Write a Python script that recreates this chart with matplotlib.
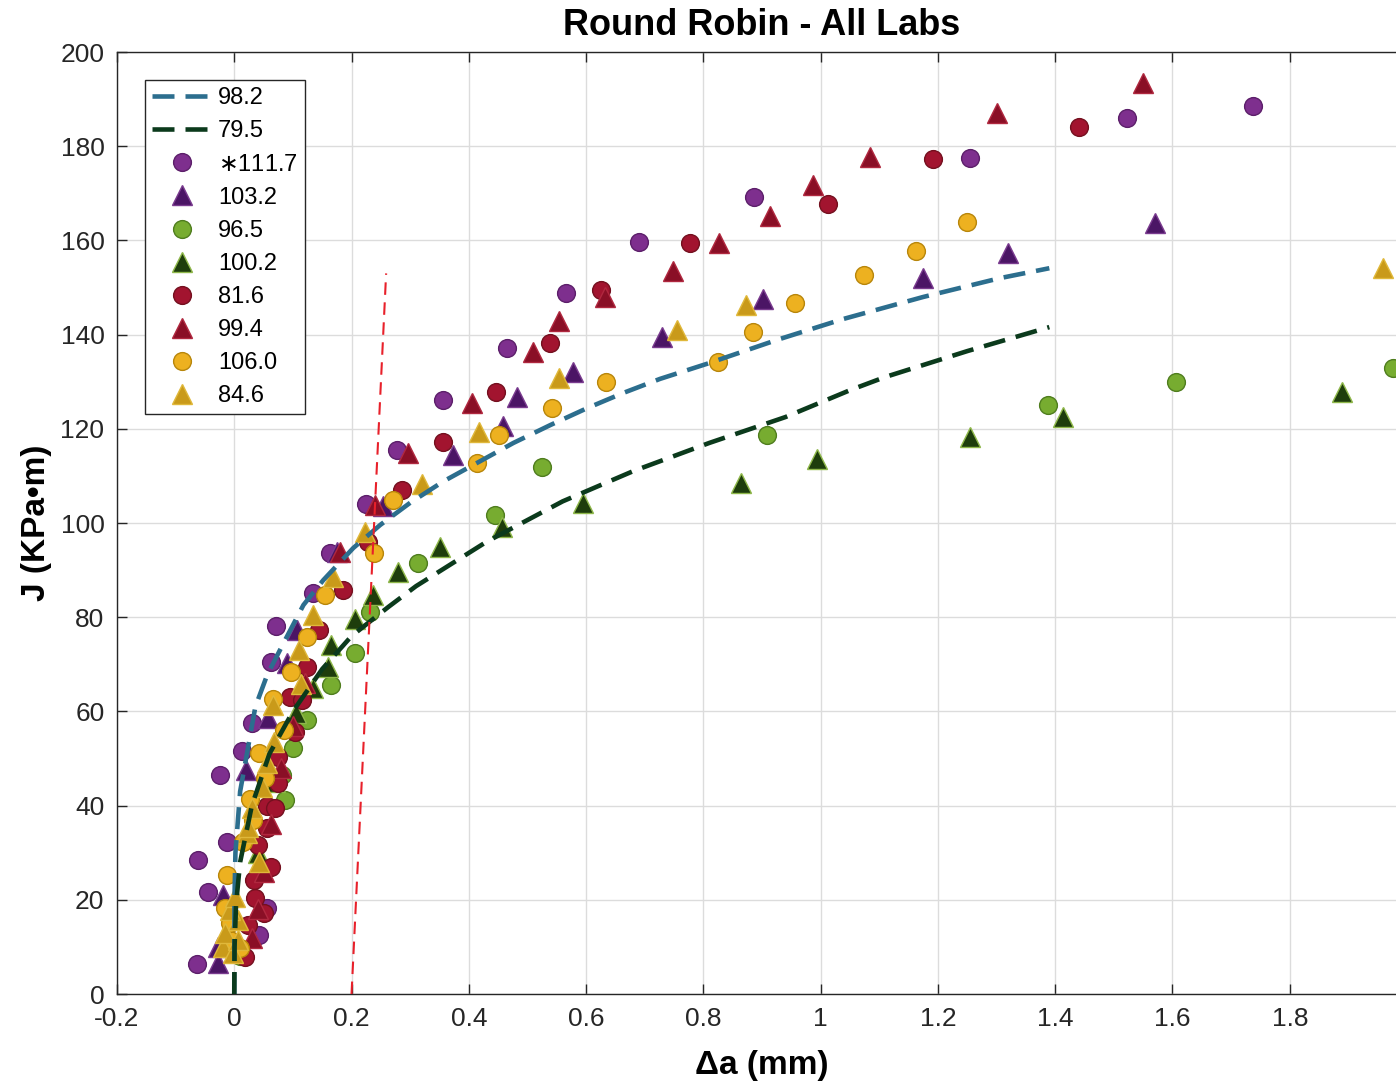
import numpy as np
import matplotlib
matplotlib.use('Agg')
import matplotlib.pyplot as plt

plt.rcParams['font.family'] = ['Liberation Sans', 'DejaVu Sans']

# fit curves
fit_labels = ['98.2', '79.5']
fit_colors = ['#2C6E8E', '#0B3A1C']
fit1_x = [0.0, 0.0003, 0.002, 0.01, 0.036, 0.056, 0.084, 0.118, 0.152, 0.203, 0.249, 0.30,
          0.356, 0.476, 0.539, 0.602, 0.663, 0.726, 0.806, 0.926, 1.038, 1.175, 1.306, 1.39]
fit1_y = [0.0, 20, 30, 43, 61, 67.7, 74.5, 82.6, 87.9, 94.7, 99.6, 104.3,
          108.8, 117, 120.8, 124.4, 127.6, 130.6, 133.8, 138.9, 143.3, 148, 152, 154.1]
fit2_x = [0.0, 0.0005, 0.003, 0.01, 0.03, 0.06, 0.1, 0.15, 0.2, 0.263, 0.31, 0.43, 0.56,
          0.68, 0.81, 0.94, 1.05, 1.11, 1.25, 1.39]
fit2_y = [0.0, 10, 19, 28, 40, 51, 60, 69, 76, 82.2, 86.6, 96.0, 104.6,
          111.0, 117, 122.5, 128.2, 131, 136.5, 141.6]

# 0.2 mm offset line
off_x = [0.2, 0.259]
off_y = [0.0, 153]

labels = ['$\\ast$111.7', '103.2', '96.5', '100.2', '81.6', '99.4', '106.0', '84.6']
markers = ['o', '^', 'o', '^', 'o', '^', 'o', '^']
faces = ['#7E2F8E', '#4B1565', '#77AC30', '#1E3D0C', '#A2142F', '#8A0F26', '#EDB120', '#C99A1A']
edges = ['#5C1F6A', '#7A3B8F', '#4F7D1E', '#8FB84A', '#74101F', '#B0283F', '#B8860B', '#E0B83A']

s1_x = [-0.063, 0.043, 0.055, -0.044, -0.061, -0.012, -0.024, 0.013, 0.031, 0.063, 0.071, 0.134,
        0.163, 0.225, 0.277, 0.356, 0.465, 0.566, 0.691, 0.887, 1.254, 1.522, 1.737]
s1_y = [6.4, 12.5, 18.3, 21.7, 28.5, 32.3, 46.5, 51.7, 57.5, 70.5, 78.2, 85.2,
        93.7, 104.1, 115.5, 126.2, 137.2, 148.8, 159.7, 169.2, 177.5, 186, 188.5]

s2_x = [-0.027, -0.027, -0.02, 0.02, 0.058, 0.09, 0.107, 0.175, 0.254, 0.373, 0.459, 0.483,
        0.578, 0.730, 0.902, 1.175, 1.320, 1.571]
s2_y = [6.6, 10, 21, 47.6, 58.6, 70.3, 77.3, 93.8, 103.6, 114.4, 120.6, 126.8,
        132, 139.5, 147.5, 152.1, 157.3, 163.7]

s3_x = [0.01, 0.087, 0.082, 0.100, 0.124, 0.165, 0.206, 0.232, 0.314, 0.445, 0.525, 0.909,
        1.388, 1.606, 1.976]
s3_y = [8, 41.2, 46.5, 52.2, 58.2, 65.6, 72.4, 81.1, 91.5, 101.7, 111.9, 118.7,
        125, 129.9, 132.9]

s4_x = [0.005, 0.04, 0.07, 0.106, 0.135, 0.160, 0.165, 0.206, 0.237, 0.280, 0.351, 0.457,
        0.595, 0.864, 0.994, 1.255, 1.413, 1.889]
s4_y = [9, 30, 45, 59.7, 65, 69.4, 74.1, 79.6, 84.7, 89.6, 94.9, 99.2,
        104.2, 108.5, 113.6, 118.3, 122.5, 127.8]

s5_x = [0.019, 0.024, 0.05, 0.036, 0.033, 0.062, 0.041, 0.055, 0.056, 0.070, 0.075, 0.075,
        0.104, 0.095, 0.116, 0.124, 0.145, 0.186, 0.228, 0.286, 0.356, 0.447, 0.539, 0.626,
        0.778, 1.013, 1.192, 1.441]
s5_y = [7.9, 14.6, 17.2, 20.4, 24.2, 27, 31.6, 35.2, 39.9, 39.5, 44.8, 50.3,
        55.6, 63, 62.4, 69.4, 77.3, 85.8, 96, 107, 117.2, 127.8, 138.2, 149.5,
        159.5, 167.7, 177.3, 184]

s6_x = [0.03, 0.04, 0.05, 0.062, 0.08, 0.1, 0.12, 0.180, 0.240, 0.297, 0.406, 0.510, 0.554,
        0.633, 0.749, 0.827, 0.914, 0.987, 1.084, 1.301, 1.550]
s6_y = [12, 18, 26, 36, 48, 57, 66, 93.8, 103.8, 114.9, 125.4, 136.3, 142.9,
        148, 153.6, 159.5, 165.2, 171.8, 177.7, 187, 193.4]

s7_x = [-0.007, 0.01, -0.007, -0.015, -0.012, 0.015, 0.032, 0.026, 0.053, 0.043, 0.084, 0.066,
        0.097, 0.124, 0.154, 0.239, 0.271, 0.414, 0.452, 0.542, 0.634, 0.825, 0.885, 0.957,
        1.074, 1.163, 1.250]
s7_y = [11.5, 9.8, 15.1, 18.3, 25.3, 32.3, 37, 41.4, 45.9, 51.2, 56, 62.6,
        68.4, 75.8, 84.7, 93.6, 104.9, 112.7, 118.7, 124.4, 130, 134.2, 140.5, 146.7,
        152.7, 157.7, 163.9]

s8_x = [-0.019, -0.002, 0.007, -0.015, 0.007, -0.007, 0.002, 0.042, 0.022, 0.024, 0.031, 0.048,
        0.056, 0.068, 0.066, 0.113, 0.111, 0.135, 0.169, 0.223, 0.321, 0.418, 0.553, 0.755,
        0.873, 1.959]
s8_y = [10, 8.7, 11.5, 12.9, 15.7, 17.8, 20.6, 28, 34.2, 35.5, 39.5, 44,
        49, 53.5, 61.4, 65.8, 73, 80.5, 88.5, 98.1, 108.2, 119.3, 130.8, 141,
        146.3, 154.1]

series_x = [s1_x, s2_x, s3_x, s4_x, s5_x, s6_x, s7_x, s8_x]
series_y = [s1_y, s2_y, s3_y, s4_y, s5_y, s6_y, s7_y, s8_y]

xticks = [-0.2, 0, 0.2, 0.4, 0.6, 0.8, 1, 1.2, 1.4, 1.6, 1.8, 2]
xticklabels = ['-0.2', '0', '0.2', '0.4', '0.6', '0.8', '1', '1.2', '1.4', '1.6', '1.8', '']
yticks = [0, 20, 40, 60, 80, 100, 120, 140, 160, 180, 200]

fig = plt.figure(figsize=(13.96, 10.84), dpi=100)
ax = fig.add_axes([0.0838, 0.083, 0.9241, 0.869])

handles = []
for xs, ys, m, fc, ec in zip(series_x, series_y, markers, faces, edges):
    ms = 12.8 if m == 'o' else 14.2
    h, = ax.plot(xs, ys, m, ms=ms, mfc=fc, mec=ec, mew=1.0, linestyle='none', zorder=3)
    handles.append(h)

l1, = ax.plot(fit1_x, fit1_y, color=fit_colors[0], lw=3.3, dashes=(4.8, 2.4), zorder=4)
l2, = ax.plot(fit2_x, fit2_y, color=fit_colors[1], lw=3.3, dashes=(4.8, 2.4), zorder=4)
ax.plot(off_x, off_y, color='#E8202A', lw=1.5, dashes=(6.0, 3.6), zorder=5)

ax.set_xlim(-0.2, 2.0)
ax.set_ylim(0, 200)
ax.set_xticks(xticks)
ax.set_xticklabels(xticklabels)
ax.set_yticks(yticks)
ax.grid(True, color='#DCDCDC', lw=1.0)
ax.set_axisbelow(True)
ax.tick_params(direction='in', length=7, width=1, labelsize=19, colors='#262626',
               top=True, right=True, pad=9)
for sp in ax.spines.values():
    sp.set_color('#262626')
    sp.set_linewidth(1.0)

ax.set_title('Round Robin - All Labs', fontsize=26, fontweight='bold', pad=12)
ax.set_xlabel('Δa (mm)', fontsize=24, fontweight='bold', labelpad=14)
ax.set_ylabel('J (KPa•m)', fontsize=24, fontweight='bold', labelpad=6)

leg = ax.legend([l1, l2] + handles, fit_labels + labels, loc='upper left',
                bbox_to_anchor=(0.0217, 0.970), borderaxespad=0, fontsize=17,
                labelspacing=0.47, handlelength=2.5, handletextpad=0.3,
                fancybox=False, framealpha=1, edgecolor='#262626', borderpad=0.3)
leg.get_frame().set_linewidth(1.0)

plt.savefig('out.png', dpi=100)
